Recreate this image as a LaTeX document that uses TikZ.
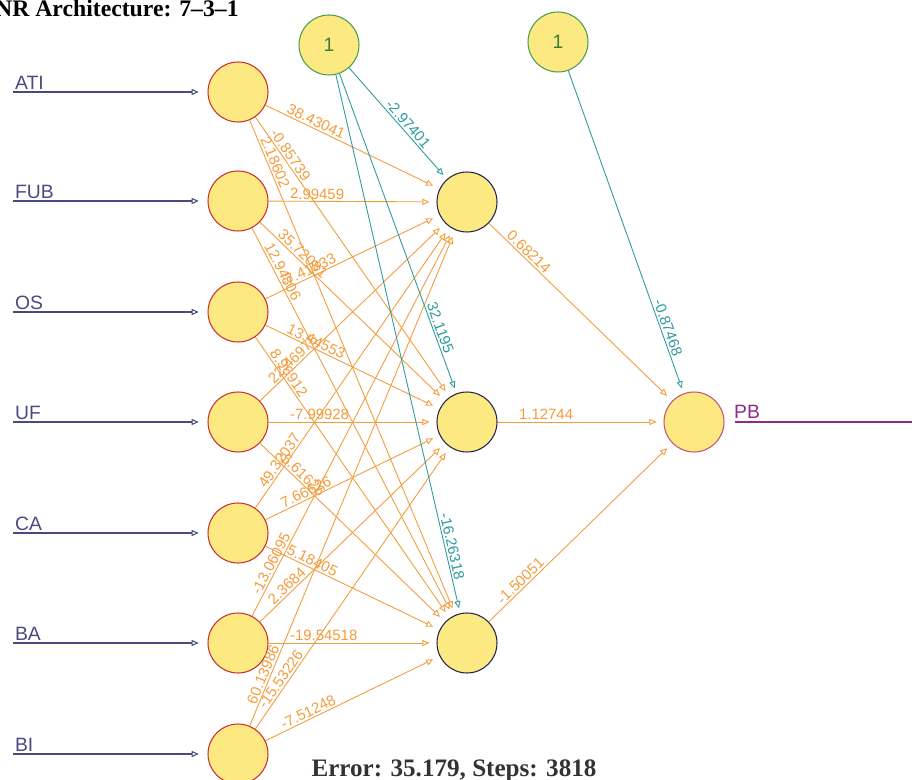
\documentclass[tikz,border=0pt]{standalone}
\usepackage{fontspec}
\setmainfont{Liberation Serif}
\setsansfont{Liberation Sans}
\usepackage{tikz}
\usetikzlibrary{arrows.meta,calc}
\definecolor{nfill}{HTML}{FDE982}
\definecolor{incol}{HTML}{4A4A80}
\definecolor{wcol}{HTML}{F39C3C}
\definecolor{bcol}{HTML}{2E9A9E}
\definecolor{redrim}{HTML}{C83030}
\definecolor{navyrim}{HTML}{22224F}
\definecolor{greenrim}{HTML}{4A9E4A}
\definecolor{outrim}{HTML}{C8507A}
\definecolor{pbcol}{HTML}{8B2B8B}

\begin{document}
\begin{tikzpicture}[x=0.02cm, y=-0.02cm,
		neuron/.style={circle, draw, fill=nfill, minimum size=1.2cm, inner sep=0pt, line width=0.6pt},
		tip/.style={-{Triangle[open, length=4pt, width=3.5pt]}},
		inedge/.style={tip, draw=incol, line width=0.6pt, shorten >=5pt},
		wedge/.style={tip, draw=wcol, line width=0.5pt, shorten >=4pt},
		bedge/.style={tip, draw=bcol, line width=0.5pt, shorten >=3pt},
		wlbl/.style={sloped, anchor=south west, inner sep=1pt, text=wcol, font=\sffamily\fontsize{8.5}{10}\selectfont},
		blbl/.style={sloped, above, inner sep=1pt, text=bcol, font=\sffamily\fontsize{8.5}{10}\selectfont},
		inlbl/.style={anchor=south west, inner sep=1pt, text=incol, font=\sffamily\fontsize{11}{13}\selectfont}]
	\useasboundingbox (0,0) rectangle (912,780);
	% title and error line
	\node[anchor=base east, inner sep=0pt, font=\bfseries\fontsize{13.5}{16}\selectfont] (title) at (239,17) {NR Architecture: 7--3--1};
	\node[anchor=base, inner sep=0pt, text=black!80, font=\bfseries\fontsize{14.3}{17}\selectfont] (err) at (454,776) {Error: 35.179, Steps: 3818};
	% neurons
	\foreach \i/\y/\name in {1/92/ATI, 2/201/FUB, 3/312/OS, 4/422/UF, 5/533/CA, 6/643/BA, 7/754/BI} {
		\node[neuron, draw=redrim] (i\i) at (238,\y) {};
		\coordinate (s\i) at (13,\y);
		\draw[inedge] (s\i) -- (i\i);
		\node[inlbl] (n\i) at (s\i) {\name};
	}
	\foreach \h/\y in {1/202, 2/422, 3/643}
		\node[neuron, draw=navyrim] (h\h) at (467,\y) {};
	\node[neuron, draw=greenrim, text=greenrim!80!black, font=\sffamily\fontsize{11}{13}\selectfont] (b1) at (329,45) {1};
	\node[neuron, draw=greenrim, text=greenrim!80!black, font=\sffamily\fontsize{11}{13}\selectfont] (b2) at (558,42) {1};
	\node[neuron, draw=outrim] (o) at (694,422) {};
	\coordinate (pbend) at (912,422);
	\draw[draw=pbcol, line width=0.6pt, shorten <=6pt] (o) -- (pbend);
	\node[anchor=south west, inner sep=1pt, text=pbcol, font=\sffamily\fontsize{11}{13}\selectfont] (pb) at (732,421) {PB};
	% weights input -> hidden
	\foreach \i/\h/\w in {1/1/38.43041, 1/2/-0.85739, 1/3/2.18602,
			2/1/2.99459, 2/2/35.72081, 2/3/12.94806,
			3/1/-7.41833, 3/2/13.44553, 3/3/8.96912,
			4/1/22.46975, 4/2/-7.99928, 4/3/-5.61626,
			5/1/49.32037, 5/2/7.66626, 5/3/5.18405,
			6/1/-13.06095, 6/2/2.3684, 6/3/-19.54518,
			7/1/60.13986, 7/2/-15.53226, 7/3/-7.51248} {
		\draw[wedge] (i\i) -- (h\h);
		\path (i\i) -- node[wlbl, pos=1] {\w} ($(i\i)!1cm!(h\h)$);
	}
	% weights hidden -> output
	\foreach \h/\w in {1/0.68214, 2/1.12744, 3/-1.50051} {
		\draw[wedge] (h\h) -- (o);
		\path (h\h) -- node[wlbl, pos=1] {\w} ($(h\h)!1cm!(o)$);
	}
	% bias weights
	\foreach \b/\t/\w in {b1/h1/-2.97401, b1/h2/32.1195, b1/h3/-16.26318, b2/o/-0.87468} {
		\draw[bedge] (\b) -- (\t);
		\path (\b) -- node[blbl, pos=1] {\w} ($(\t)!1.95cm!(\b)$);
	}
\end{tikzpicture}
\end{document}
